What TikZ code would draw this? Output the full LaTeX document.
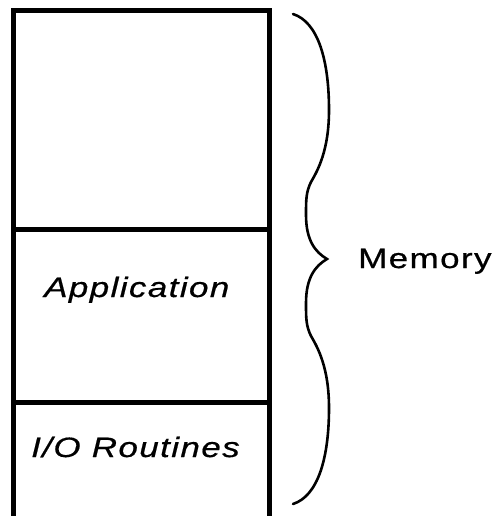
\documentclass[tikz,border=0pt]{standalone}
\usepackage{fontspec}
\newfontfamily\lblfont{Liberation Sans}[FakeStretch=1.25,LetterSpace=5,FakeBold=0.6]
\newfontfamily\ilblfont{Liberation Sans}[FakeStretch=1.25,LetterSpace=5,FakeBold=0.6]
\begin{document}
\begin{tikzpicture}[x=1pt,y=-1pt,
  wall/.style={line width=5pt,line join=miter},
  brace/.style={line width=2.6pt,line cap=round},
  lbl/.style={inner sep=0pt,font=\lblfont\fontsize{28}{31}\selectfont},
  ilbl/.style={inner sep=0pt,font=\ilblfont\itshape\fontsize{28}{31}\selectfont}]
\useasboundingbox (0,0) rectangle (495,516);
\fill[white] (0,0) rectangle (495,516);
\begin{scope}
\clip (0,0) rectangle (495,516);
\draw[wall] (13.5,530) -- (13.5,10.5) -- (269,10.5) -- (269,530);
\draw[wall] (13.5,229.5) -- (269,229.5);
\draw[wall] (13.5,402.5) -- (269,402.5);
\end{scope}
\draw[brace] (293,14) .. controls (318,22) and (329,60) .. (329,110)
  .. controls (329,150) and (318,170) .. (311,182)
  .. controls (306,192) and (306,200) .. (306,215)
  .. controls (306,240) and (315,252) .. (327,259)
  .. controls (315,266) and (306,278) .. (306,303)
  .. controls (306,318) and (306,326) .. (311,336)
  .. controls (318,348) and (329,368) .. (329,408)
  .. controls (329,458) and (318,496) .. (293,504);
\node[lbl,anchor=base west] (mem) at (358,268) {Memory};
\node[ilbl,anchor=base west] (app) at (44,297) {Application};
\node[ilbl,anchor=base west] (io) at (31,457) {I/O Routines};
\end{tikzpicture}
\end{document}
